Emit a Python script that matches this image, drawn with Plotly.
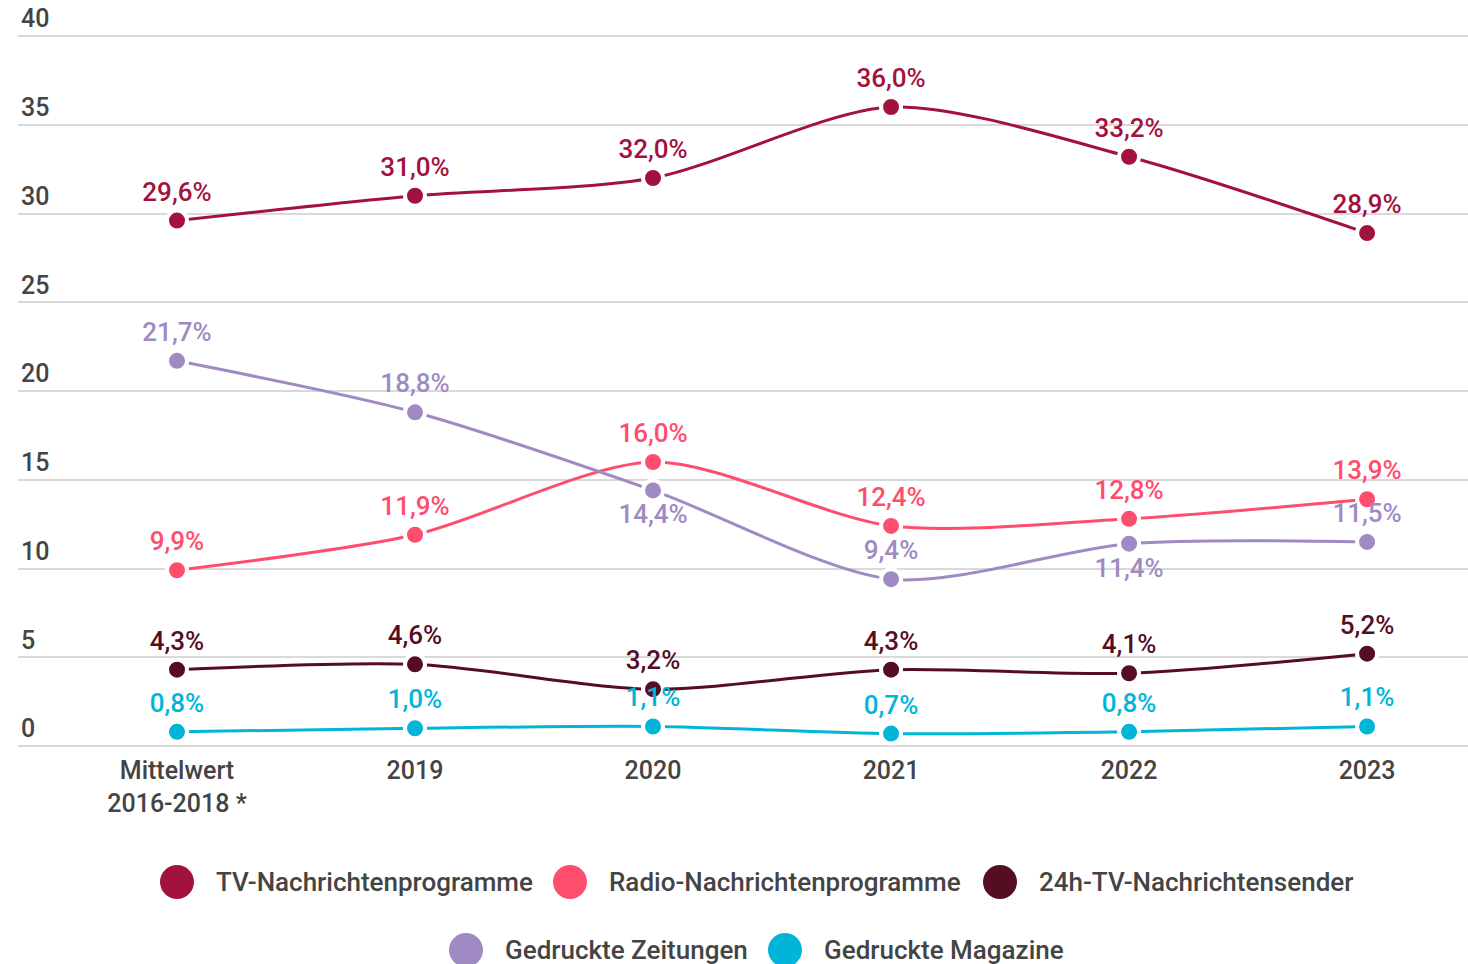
import plotly.graph_objects as go

categories = ["Mittelwert<br>2016-2018 *", "2019", "2020", "2021", "2022", "2023"]

tv_news = [29.6, 31.0, 32.0, 36.0, 33.2, 28.9]
radio_news = [9.9, 11.9, 16.0, 12.4, 12.8, 13.9]
tv_24h = [4.3, 4.6, 3.2, 4.3, 4.1, 5.2]
newspapers = [21.7, 18.8, 14.4, 9.4, 11.4, 11.5]
magazines = [0.8, 1.0, 1.1, 0.7, 0.8, 1.1]

series = [
    ("TV-Nachrichtenprogramme", tv_news, "#A3123D", ["top center"] * 6),
    ("Radio-Nachrichtenprogramme", radio_news, "#FF4D6D", ["top center"] * 6),
    ("24h-TV-Nachrichtensender", tv_24h, "#550D22", ["top center"] * 6),
    ("Gedruckte Zeitungen", newspapers, "#A08AC3",
     ["top center", "top center", "bottom center", "top center", "bottom center", "top center"]),
    ("Gedruckte Magazine", magazines, "#00B5D8", ["top center"] * 6),
]

# legend layout (pixel positions of circle centre and row)
legend_pos = [(177, 882), (570, 882), (1000, 882), (466, 950), (785, 950)]

# plot area in pixels
L, R, T, B = 18, 1468, 0, 748


def fmt(v):
    return f"{v:.1f}%".replace(".", ",")


def px_x(p):
    return (p - L) / (R - L)


def px_y(p):
    return (B - p) / (B - T)


fig = go.Figure()

for name, values, color, positions in series:
    fig.add_trace(
        go.Scatter(
            x=categories,
            y=values,
            name=name,
            mode="lines+markers+text",
            line=dict(color=color, width=3, shape="spline", smoothing=0.8),
            marker=dict(size=20, color=color, line=dict(color="white", width=4)),
            text=[fmt(v) for v in values],
            textposition=positions,
            textfont=dict(family="Roboto", size=26, color=color, weight=500),
            showlegend=False,
            cliponaxis=False,
        )
    )

# custom legend with large round symbols
for (name, _, color, _), (cx, cy) in zip(series, legend_pos):
    fig.add_shape(
        type="circle",
        xref="paper",
        yref="paper",
        xsizemode="pixel",
        ysizemode="pixel",
        xanchor=px_x(cx),
        yanchor=px_y(cy),
        x0=-17,
        x1=17,
        y0=-17,
        y1=17,
        fillcolor=color,
        line=dict(width=0),
    )
    fig.add_annotation(
        x=px_x(cx + 37),
        y=px_y(cy),
        xref="paper",
        yref="paper",
        xanchor="left",
        yanchor="middle",
        text=name,
        showarrow=False,
        font=dict(family="Roboto", size=26, color="#444444", weight=500),
    )

fig.update_layout(
    width=1468,
    height=964,
    paper_bgcolor="white",
    plot_bgcolor="white",
    margin=dict(l=L, r=1468 - R, t=T, b=964 - B, autoexpand=False),
    font=dict(family="Roboto", color="#444444"),
    showlegend=False,
    xaxis=dict(
        type="category",
        range=[-0.668, 5.424],
        showgrid=False,
        zeroline=False,
        showline=False,
        ticks="",
        ticklabelstandoff=5,
        tickfont=dict(family="Roboto", size=25, color="#444444", weight=500),
    ),
    yaxis=dict(
        range=[-0.113, 42.03],
        tickvals=[0, 5, 10, 15, 20, 25, 30, 35, 40],
        showgrid=True,
        gridcolor="#d9d9d9",
        gridwidth=2,
        zeroline=False,
        showline=False,
        ticks="",
        ticklabelposition="inside top",
        tickfont=dict(family="Roboto", size=25, color="#444444", weight=500),
    ),
)

fig.write_html(
    "out.html",
    config={"displayModeBar": False},
    post_script="document.body.style.margin = '0';",
)
